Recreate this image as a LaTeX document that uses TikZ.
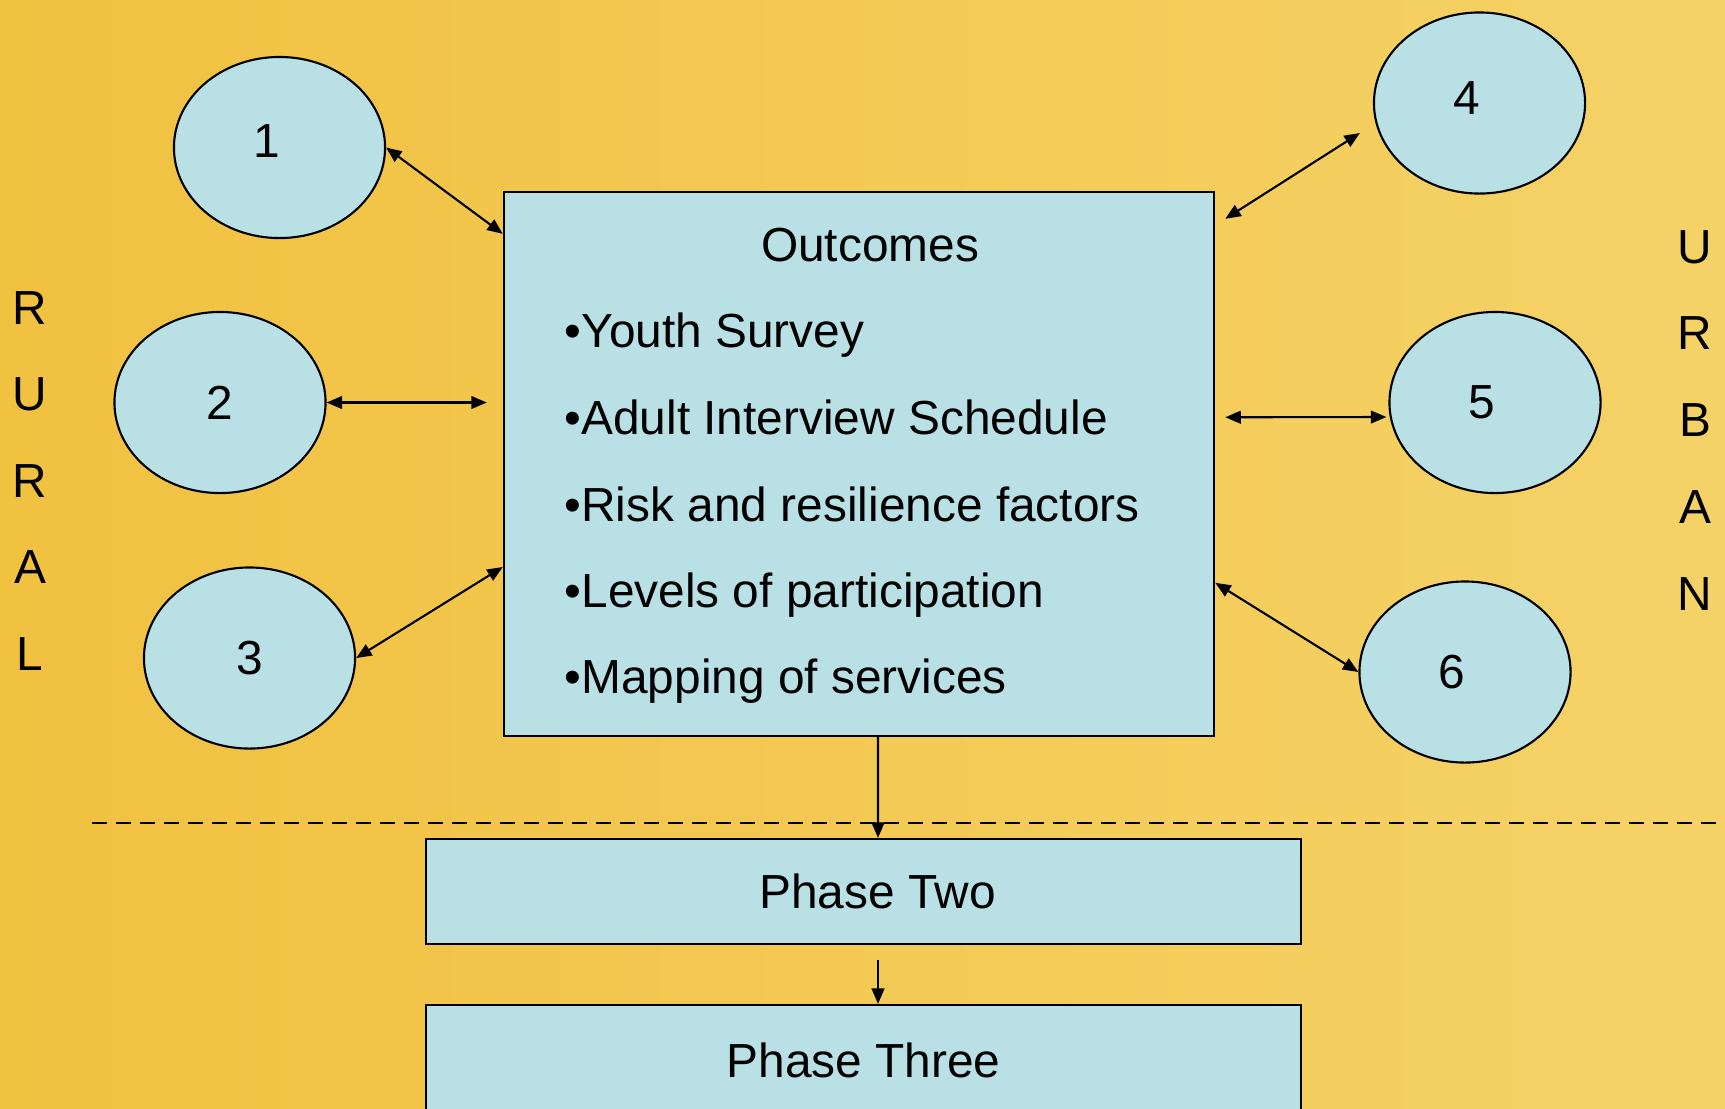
\documentclass[tikz,border=0pt]{standalone}
\usepackage{fontspec}
\setmainfont{Liberation Sans}
\usetikzlibrary{positioning,arrows.meta,shapes.geometric,calc}
\definecolor{boxblue}{RGB}{185,224,228}
\definecolor{bgdark}{RGB}{241,193,64}
\definecolor{bgmid}{RGB}{248,221,138}
\definecolor{bglight}{RGB}{245,210,104}

\begin{document}
\begin{tikzpicture}[x=0.01cm, y=-0.01cm,
  >={Triangle[length=4.4pt,width=3.6pt]},
  every node/.style={font=\fontsize{13.6}{16}\selectfont},
  site/.style={ellipse, draw, fill=boxblue, line width=0.6pt, minimum width=2.11cm, minimum height=1.81cm, inner sep=0pt},
  panel/.style={rectangle, draw, fill=boxblue, line width=0.6pt, inner sep=0pt},
  item/.style={anchor=base west, inner sep=0pt},
  link/.style={<->, line width=0.6pt}]
\shade[left color=bgdark, middle color=bgmid, right color=bglight] (0,0) rectangle (1725,1108);
\useasboundingbox (0,0) rectangle (1725,1108);

\node (outcomes) [panel, minimum width=7.10cm, minimum height=5.435cm] at (859,464.25) {};
\node (title) [anchor=base, inner sep=0pt] at (870,261) {Outcomes};
\node (youth) [item] at (564,347) {•Youth Survey};
\node (adult) [item] at (564,434) {•Adult Interview Schedule};
\node (risk) [item] at (564,521) {•Risk and resilience factors};
\node (levels) [item] at (564,607) {•Levels of participation};
\node (mapping) [item] at (564,693) {•Mapping of services};

\node (e1) [site] at (279.5,147.5) {\hspace*{-0.26cm}\raisebox{0.12cm}{1}};
\node (e2) [site] at (220,402.5) {2};
\node (e3) [site] at (249.5,658) {3};
\node (e4) [site] at (1479.5,103) {\hspace*{-0.26cm}\raisebox{0.1cm}{4}};
\node (e5) [site] at (1495,402.5) {\hspace*{-0.26cm}\raisebox{-0.16cm}{5}};
\node (e6) [site] at (1465,672) {\hspace*{-0.26cm}6};

\foreach \ch [count=\i] in {R,U,R,A,L}
  \node (rural\i) [anchor=base, inner sep=0pt] at (30,{324+86.5*(\i-1)}) {\ch};
\foreach \ch [count=\i] in {U,R,B,A,N}
  \node (urban\i) [anchor=base, inner sep=0pt] at (1695,{263+86.75*(\i-1)}) {\ch};

\draw[link] (e1.east) -- ([yshift=-0.425cm]outcomes.north west);
\draw[link] (e2.east) -- ($(outcomes.west |- e2.east)+(-16,0)$);
\draw[link] (e3.east) -- ([yshift=-3.755cm]outcomes.north west);
\draw[link] ($(outcomes.north east)+(10,27.5)$) -- ($(e4.west)+(-13,30)$);
\draw[link] ($(outcomes.east)+(10,-47)$) -- ($(e5.west)+(-2,14.5)$);
\draw[link] ($(outcomes.north east)+(0,391.5)$) -- (e6.west);

\draw[dashed, line width=0.6pt, dash pattern=on 0.15cm off 0.09cm] (92,823) -- (1725,823);

\node (phasetwo) [panel, minimum width=8.75cm, minimum height=1.05cm] at (863.5,891.5) {\hspace*{0.28cm}Phase Two};
\node (phasethree) [panel, minimum width=8.75cm, minimum height=1.10cm] at (863.5,1060) {Phase Three};

\draw[->, line width=0.6pt] ([xshift=0.19cm]outcomes.south) -- ([xshift=0.145cm]phasetwo.north);
\draw[->, line width=0.6pt] ([xshift=0.145cm,yshift=-0.15cm]phasetwo.south) -- ([xshift=0.145cm]phasethree.north);
\end{tikzpicture}
\end{document}
